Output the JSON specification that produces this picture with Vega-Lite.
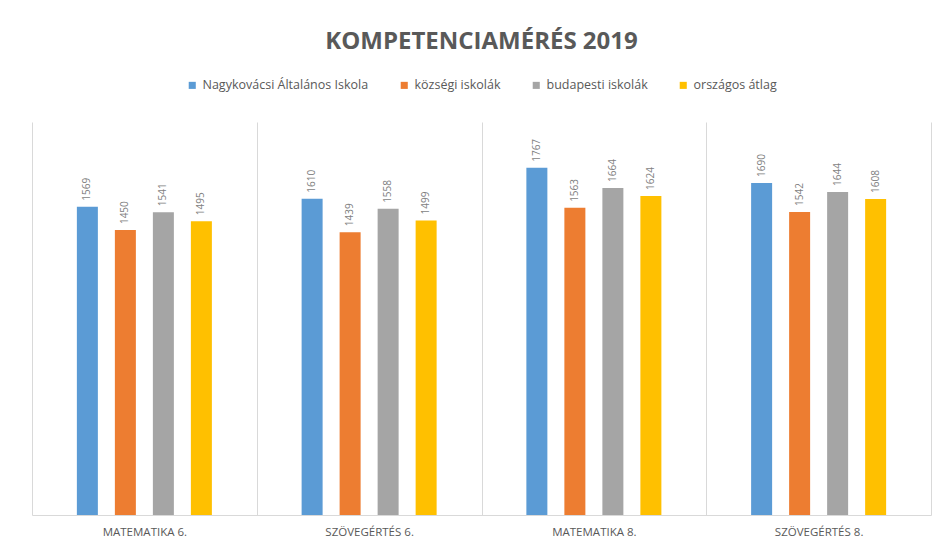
{
  "$schema": "https://vega.github.io/schema/vega-lite/v6.json",
  "width": 899,
  "height": 393,
  "autosize": {"type": "none"},
  "padding": {"left": 32, "top": 122, "right": 17, "bottom": 27},
  "background": "white",
  "title": {
    "text": "KOMPETENCIAMÉRÉS 2019",
    "font": "Open Sans",
    "fontSize": 24,
    "fontWeight": "bold",
    "color": "#595959",
    "anchor": "middle",
    "offset": 25
  },
  "config": {
    "view": {"stroke": null},
    "font": "Open Sans"
  },
  "data": {
    "values": [
      {"subject": "MATEMATIKA 6.", "school": "Nagykovácsi Általános Iskola", "score": 1569},
      {"subject": "MATEMATIKA 6.", "school": "községi iskolák", "score": 1450},
      {"subject": "MATEMATIKA 6.", "school": "budapesti iskolák", "score": 1541},
      {"subject": "MATEMATIKA 6.", "school": "országos átlag", "score": 1495},
      {"subject": "SZÖVEGÉRTÉS 6.", "school": "Nagykovácsi Általános Iskola", "score": 1610},
      {"subject": "SZÖVEGÉRTÉS 6.", "school": "községi iskolák", "score": 1439},
      {"subject": "SZÖVEGÉRTÉS 6.", "school": "budapesti iskolák", "score": 1558},
      {"subject": "SZÖVEGÉRTÉS 6.", "school": "országos átlag", "score": 1499},
      {"subject": "MATEMATIKA 8.", "school": "Nagykovácsi Általános Iskola", "score": 1767},
      {"subject": "MATEMATIKA 8.", "school": "községi iskolák", "score": 1563},
      {"subject": "MATEMATIKA 8.", "school": "budapesti iskolák", "score": 1664},
      {"subject": "MATEMATIKA 8.", "school": "országos átlag", "score": 1624},
      {"subject": "SZÖVEGÉRTÉS 8.", "school": "Nagykovácsi Általános Iskola", "score": 1690},
      {"subject": "SZÖVEGÉRTÉS 8.", "school": "községi iskolák", "score": 1542},
      {"subject": "SZÖVEGÉRTÉS 8.", "school": "budapesti iskolák", "score": 1644},
      {"subject": "SZÖVEGÉRTÉS 8.", "school": "országos átlag", "score": 1608}
    ]
  },
  "encoding": {
    "x": {
      "field": "subject",
      "type": "nominal",
      "sort": null,
      "scale": {"paddingInner": 0, "paddingOuter": 0},
      "axis": {
        "title": null,
        "labelAngle": 0,
        "labelFont": "Open Sans",
        "labelFontSize": 11.5,
        "labelColor": "#595959",
        "labelPadding": 11,
        "ticks": false,
        "tickBand": "extent",
        "grid": true,
        "gridColor": "#d9d9d9",
        "gridWidth": 1,
        "domain": true,
        "domainColor": "#d9d9d9",
        "domainWidth": 1
      }
    },
    "xOffset": {
      "field": "school",
      "type": "nominal",
      "sort": null,
      "scale": {"paddingInner": 0, "paddingOuter": 0.957}
    },
    "y": {
      "field": "score",
      "type": "quantitative",
      "scale": {"domain": [0, 2000], "nice": false},
      "axis": null
    }
  },
  "layer": [
    {
      "mark": {"type": "bar", "width": 21},
      "encoding": {
        "color": {
          "field": "school",
          "type": "nominal",
          "sort": null,
          "scale": {
            "domain": ["Nagykovácsi Általános Iskola", "községi iskolák", "budapesti iskolák", "országos átlag"],
            "range": ["#5b9bd5", "#ed7d31", "#a5a5a5", "#ffc000"]
          },
          "legend": {
            "title": null,
            "orient": "none",
            "direction": "horizontal",
            "legendX": 154,
            "legendY": -43,
            "symbolType": "square",
            "symbolSize": 50,
            "symbolStrokeWidth": 0,
            "labelFont": "Open Sans",
            "labelFontSize": 12.5,
            "labelColor": "#595959",
            "labelOffset": 4,
            "labelLimit": 400,
            "columnPadding": 29
          }
        }
      }
    },
    {
      "mark": {
        "type": "text",
        "angle": 270,
        "align": "left",
        "baseline": "middle",
        "dx": 6,
        "fontSize": 10,
        "font": "Open Sans",
        "color": "#7f7f7f"
      },
      "encoding": {
        "text": {"field": "score", "type": "quantitative"}
      }
    }
  ]
}
